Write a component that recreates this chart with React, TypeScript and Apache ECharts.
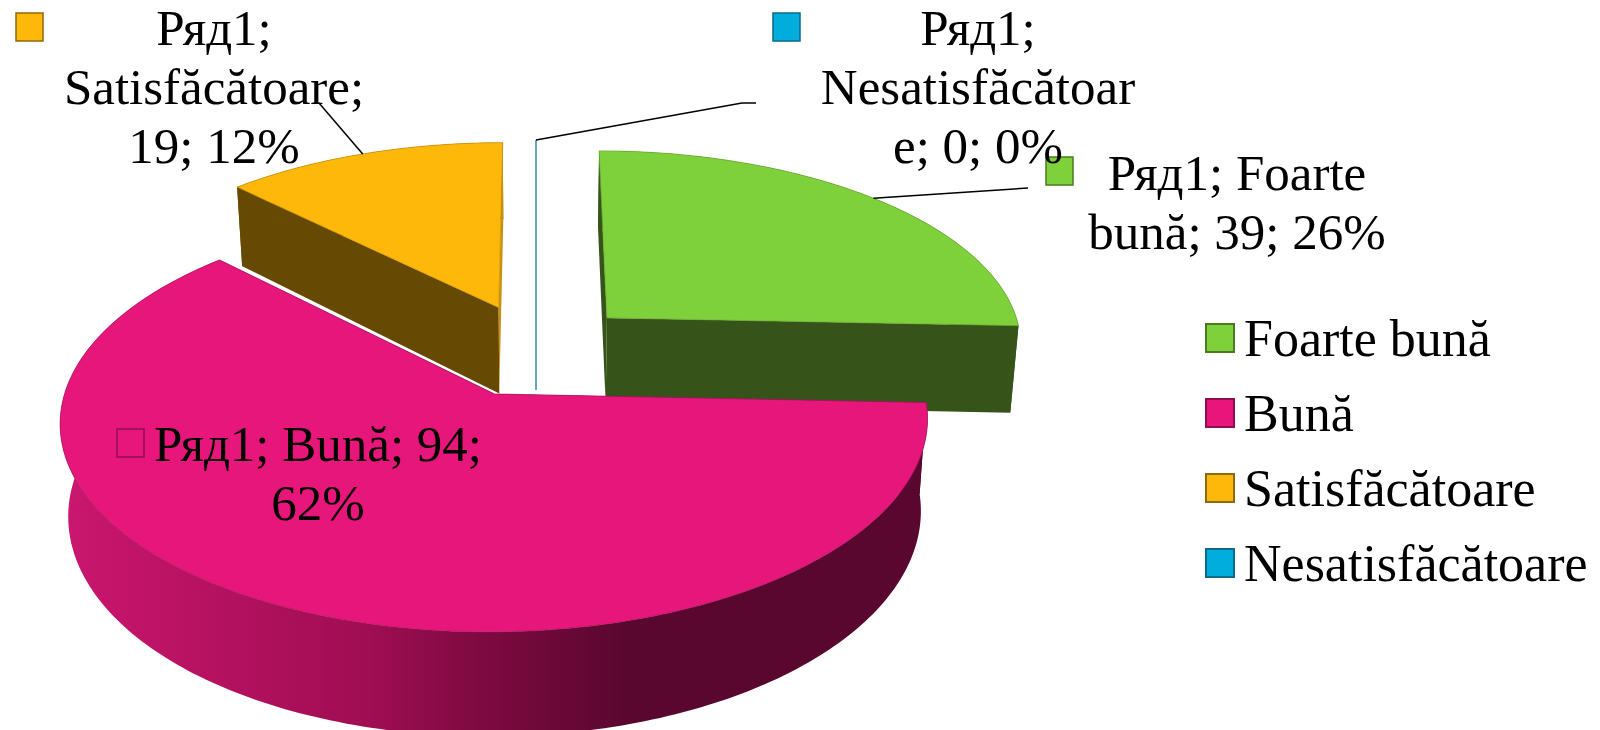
import React, { useEffect, useRef } from "react";
import * as echarts from "echarts";

// Survey answers, one series per answer so the legend lists them natively.
const categories = ["Foarte bună", "Bună", "Satisfăcătoare", "Nesatisfăcătoare"];
const values = [39, 94, 19, 0];
const labelLines = [
  ["Ряд1; Foarte", "bună; 39; 26%"],
  ["Ряд1; Bună; 94;", "62%"],
  ["Ряд1;", "Satisfăcătoare;", "19; 12%"],
  ["Ряд1;", "Nesatisfăcătoar", "e; 0; 0%"],
];

const topColors = ["#7fd13b", "#e6167a", "#feb80a", "#00addc"];
const edgeColors = ["#6aa82f", "#a8125c", "#c8920e", "#5f9fb8"];
const wallColors = ["#36541a", "#5a0730", "#664a03", "#5f9fb8"];
const keyBorders = ["#4b7a1f", "#8e0f4f", "#8f6a0b", "#0a6a8a"];
const legendFills = ["#7fd13b", "#ea157a", "#feb80a", "#00addc"];
const FRONT_SHADE = [
  [0, "#cb166f"],
  [0.36, "#9f0d52"],
  [0.48, "#7f0a41"],
  [0.65, "#5a0730"],
  [1, "#5a0730"],
];

// Pie placement: a tilted disc under a one-point perspective.
const VIEW = { x0: 536, y0: 394, scaleX: 430, scaleY: 207, persp: 0.13, refV: 0.22 };
const EXPLODE = 0.24;
const THICKNESS = 91;
const FLOOR_SCALE = 0.983;
const FONT = '51px "Liberation Serif"';

// Call-out placement for each answer: key swatch, text centre, first line centre, leader bend.
const callouts = [
  { key: [1046, 157], cx: 1237, y: 173, pitch: 59, leader: [[1028, 188]], keyFill: "#7fd13b" },
  { key: [117, 429], cx: 318, y: 444, pitch: 59, leader: null, keyFill: "#e6167a" },
  { key: [16, 13], cx: 214, y: 28, pitch: 59, leader: [[319, 103]], keyFill: "#feb80a" },
  { key: [773, 13], cx: 978, y: 28, pitch: 59, leader: [[742, 103], [756, 103]], keyFill: "#00addc" },
];

const TOTAL = values.reduce((a, b) => a + b, 0);
const RAD = Math.PI / 180;

function sweep(i: number) {
  const before = values.slice(0, i).reduce((a, b) => a + b, 0);
  return [(before / TOTAL) * 360, ((before + values[i]) / TOTAL) * 360];
}

function project(u: number, v: number, floor = false) {
  const w = 1 - VIEW.persp * (v - VIEW.refV);
  const x = (VIEW.scaleX * u) / w;
  const y = VIEW.y0 + (VIEW.scaleY * (v - VIEW.refV)) / w;
  return floor
    ? [VIEW.x0 + x * FLOOR_SCALE, y + THICKNESS / w]
    : [VIEW.x0 + x, y];
}

function renderSlice(i: number) {
  const [a0, a1] = sweep(i);
  const mid = ((a0 + a1) / 2) * RAD;
  const ou = EXPLODE * Math.sin(mid);
  const ov = -EXPLODE * Math.cos(mid);
  const at = (deg: number, r: number, floor = false) =>
    project(ou + r * Math.sin(deg * RAD), ov - r * Math.cos(deg * RAD), floor);

  const degs: number[] = [];
  const steps = Math.max(1, Math.ceil(a1 - a0));
  for (let s = 0; s <= steps; s++) degs.push(a0 + ((a1 - a0) * s) / steps);

  const topRim = degs.map((d) => at(d, 1));
  const floorRim = degs.map((d) => at(d, 1, true)).reverse();
  const thin = a1 - a0 === 0;
  const wallStroke = thin ? { stroke: edgeColors[i], lineWidth: 1 } : {};
  const children: any[] = [];

  // Curved wall first, then the radial walls, then the top face over them.
  if (!thin) {
    children.push({
      type: "polygon",
      shape: { points: [...topRim, ...floorRim] },
      style: {
        fill:
          i === 1
            ? {
                type: "linear",
                x: 0,
                y: 0,
                x2: 1,
                y2: 0,
                colorStops: FRONT_SHADE.map(([offset, color]) => ({ offset, color })),
              }
            : wallColors[i],
      },
    });
  }
  [a0, a1].forEach((d) => {
    children.push({
      type: "polygon",
      shape: { points: [at(d, 0), at(d, 1), at(d, 1, true), at(d, 0, true)] },
      style: {
        fill: i === 2 && d === a1 ? "#c8920e" : wallColors[i],
        ...wallStroke,
      },
    });
  });
  if (!thin) {
    children.push({
      type: "polygon",
      shape: { points: [at(a0, 0), ...topRim] },
      style: { fill: topColors[i], stroke: edgeColors[i], lineWidth: 0.7 },
    });
  }

  // Call-out: leader from the rim at the slice's bisector, swatch and text lines.
  const c = callouts[i];
  if (c.leader) {
    const start = thin ? at(a0, 1) : at((a0 + a1) / 2, 1);
    children.push({
      type: "polyline",
      shape: { points: [start, ...c.leader] },
      style: { fill: "none", stroke: "#000", lineWidth: 1.5 },
    });
  }
  children.push({
    type: "rect",
    shape: { x: c.key[0], y: c.key[1], width: 27, height: 28 },
    style: { fill: c.keyFill, stroke: keyBorders[i], lineWidth: 1.5 },
  });
  labelLines[i].forEach((line, n) => {
    children.push({
      type: "text",
      style: {
        x: c.cx,
        y: c.y + n * c.pitch,
        text: line,
        font: FONT,
        fill: "#000",
        align: "center",
        verticalAlign: "middle",
      },
    });
  });
  return { type: "group", children };
}

export default function App() {
  const ref = useRef<HTMLDivElement>(null);
  useEffect(() => {
    const chart = echarts.init(ref.current!, null, { renderer: "svg" });
    chart.setOption({
      animation: false,
      backgroundColor: "#fff",
      legend: {
        orient: "vertical",
        left: 1200,
        top: 307,
        itemWidth: 28,
        itemHeight: 28,
        itemGap: 23,
        selectedMode: false,
        textStyle: { fontFamily: "Liberation Serif", fontSize: 52, color: "#000", lineHeight: 51, padding: [0, 0, 0, 5] },
        data: categories.map((name, i) => ({
          name,
          icon: "rect",
          itemStyle: { color: legendFills[i], borderColor: keyBorders[i], borderWidth: 2 },
        })),
      },
      series: categories.map((name, i) => ({
        type: "custom",
        name,
        coordinateSystem: "none",
        z: i === 1 ? 3 : 2,
        silent: true,
        data: [[values[i]]],
        renderItem: () => renderSlice(i),
      })),
    });
    return () => chart.dispose();
  }, []);
  return <div ref={ref} style={{ position: "fixed", left: 0, top: 0, width: 1600, height: 730 }} />;
}
